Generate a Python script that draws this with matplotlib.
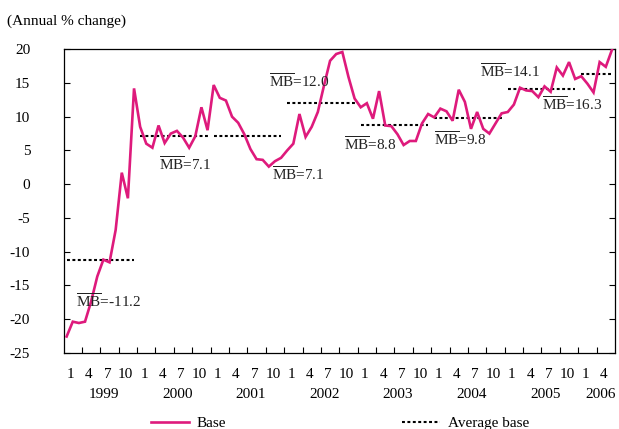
import matplotlib
matplotlib.use('Agg')
import matplotlib.pyplot as plt
from matplotlib.lines import Line2D

plt.rcParams['font.family'] = ['Liberation Serif', 'DejaVu Serif']
plt.rcParams['mathtext.fontset'] = 'custom'
plt.rcParams['mathtext.rm'] = 'Liberation Serif'
plt.rcParams['font.size'] = 11

# monthly monetary base growth, Jan 1999 - Jun 2006
base = [
    -22.6, -20.4, -20.6, -20.4, -17.4, -13.7, -11.2, -11.6, -6.8, 1.7, -2.1, 14.2,   # 1999
    8.5, 6.0, 5.4, 8.7, 6.1, 7.5, 7.9, 6.9, 5.4, 7.1, 11.4, 8.0,                     # 2000
    14.7, 12.8, 12.4, 10.0, 9.1, 7.4, 5.2, 3.7, 3.6, 2.6, 3.4, 3.9,                  # 2001
    5.0, 6.0, 10.4, 7.0, 8.5, 10.7, 14.6, 18.3, 19.3, 19.6, 15.9, 12.7,              # 2002
    11.4, 12.0, 9.7, 13.8, 8.7, 8.6, 7.4, 5.8, 6.4, 6.4, 9.0, 10.4,                  # 2003
    9.9, 11.2, 10.8, 9.4, 14.0, 12.2, 8.2, 10.7, 8.2, 7.5, 9.0, 10.5,                # 2004
    10.7, 11.8, 14.3, 13.9, 13.8, 12.9, 14.5, 13.7, 17.3, 16.1, 18.1, 15.6,          # 2005
    16.0, 14.9, 13.6, 18.1, 17.4, 19.9,                                              # 2006
]
years = ['1999', '2000', '2001', '2002', '2003', '2004', '2005', '2006']
year_avg = [-11.2, 7.1, 7.1, 12.0, 8.8, 9.8, 14.1, 16.3]
month_labels = ['1', '4', '7', '10']

pink = '#DE1A7C'
n = len(base)
x = list(range(n))

fig = plt.figure(figsize=(6.19, 4.29), dpi=100)
ax = fig.add_axes([0.1027, 0.1779, 0.8908, 0.7072])

ax.plot(x, base, color=pink, lw=1.9, solid_joinstyle='miter', zorder=3)

# yearly averages as dotted segments
for k, avg in enumerate(year_avg):
    s = 12 * k
    e = min(12 * k + 11, n - 1)
    ax.plot([s, e], [avg, avg], color='black', lw=1.5,
            linestyle=(0, (1.4, 1.2)), zorder=2)

# labels "MB=.." (left x, centre y in data units)
label_pos = [(1.6, -17.8), (15.0, 2.6), (33.5, 1.1), (33.0, 14.9),
             (45.2, 5.5), (59.9, 6.3), (67.5, 16.4), (77.6, 11.5)]
for (lx, ly), avg in zip(label_pos, year_avg):
    ax.text(lx, ly - 0.6, r'$\overline{\mathrm{MB}}$=' + f'{avg:.1f}',
            ha='left', va='baseline', color='#222222', fontsize=11)

ax.set_xlim(-0.5, n - 0.5)
ax.set_ylim(-25, 20)
ax.set_yticks(range(-25, 21, 5))
ax.set_yticklabels([str(v) for v in range(-25, 21, 5)])
ax.tick_params(axis='y', direction='in', length=4, width=0.8,
               right=True, pad=24, labelsize=11)

# tick marks between quarters, labels on the months
ax.set_xticks([i + 2.5 for i in range(0, n - 3, 3)])
ax.set_xticklabels([])
ax.tick_params(axis='x', which='major', direction='in', length=4, width=0.8)
ax.set_xticks([i + 0.65 for i in range(0, n, 3)], minor=True)
ax.set_xticklabels([month_labels[(i // 3) % 4] for i in range(0, n, 3)],
                   minor=True)
ax.tick_params(axis='x', which='minor', length=0, pad=11, labelsize=11)

for k, yr in enumerate(years):
    s = 12 * k
    e = min(12 * k + 11, n - 1)
    ax.text((s + e) / 2 + 0.6, -0.138, yr, transform=ax.get_xaxis_transform(),
            ha='center', va='center', fontsize=11)

for sp in ax.spines.values():
    sp.set_linewidth(0.9)

fig.text(7 / 619, 1 - 21.7 / 429, '(Annual % change)', ha='left', va='center',
         fontsize=11)

handles = [Line2D([], [], color=pink, lw=1.9),
           Line2D([], [], color='black', lw=1.5, linestyle=(0, (1.4, 1.2)))]
fig.legend(handles, ['Base', 'Average base'], loc='center', ncol=2,
           bbox_to_anchor=(340 / 619, 1 - 423 / 429), frameon=False,
           handlelength=2.5, handletextpad=0.5, columnspacing=11.5,
           fontsize=11)

fig.savefig('out.png', dpi=100)
